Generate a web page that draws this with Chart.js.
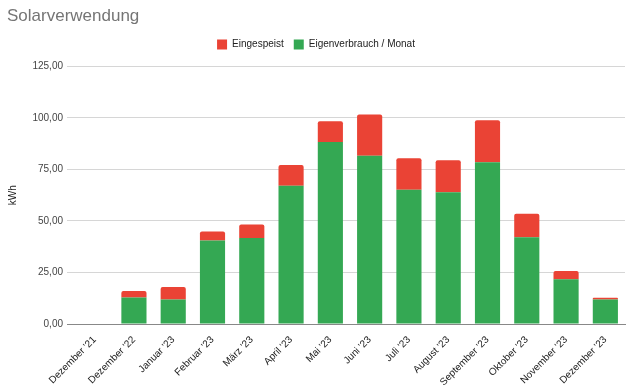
<!DOCTYPE html>
<html><head><meta charset="utf-8">
<script src="https://cdn.jsdelivr.net/npm/chart.js@4.4.0/dist/chart.umd.min.js"></script>
<style>html,body{margin:0;padding:0;background:#fff}#wrap{width:640px;height:387px}</style>
</head><body><div id="wrap"><canvas id="c" width="640" height="387"></canvas></div>
<script>
const categories = ["Dezember '21","Dezember '22","Januar '23","Februar '23","März '23","April '23","Mai '23","Juni '23","Juli '23","August '23","September '23","Oktober '23","November '23","Dezember '23"];
const eigenverbrauch = [0, 12.8, 11.9, 40.5, 41.7, 67.1, 88.3, 81.6, 65.2, 63.9, 78.5, 42.1, 21.7, 11.9];
const eingespeist = [0, 3.2, 6.1, 4.4, 6.6, 10.1, 10.1, 20.0, 15.2, 15.6, 20.4, 11.4, 4.0, 0.8];
const yTicks = [0, 25, 50, 75, 100, 125];

const legendSpacer = {
  id: 'legendSpacer',
  beforeInit(chart) {
    const orig = chart.legend.fit;
    chart.legend.fit = function () { orig.call(this); this.height += 7; };
  }
};

Chart.defaults.font.family = "'Liberation Sans', Arial, sans-serif";
new Chart(document.getElementById('c'), {
  type: 'bar',
  data: {
    labels: categories,
    datasets: [
      {label: 'Eigenverbrauch / Monat', data: eigenverbrauch, backgroundColor: '#34a853', barPercentage: 0.64, categoryPercentage: 1.0, borderRadius: 0},
      {label: 'Eingespeist', data: eingespeist, backgroundColor: '#ea4335', barPercentage: 0.64, categoryPercentage: 1.0, borderRadius: {topLeft: 2, topRight: 2}, borderSkipped: 'bottom'}
    ]
  },
  plugins: [legendSpacer],
  options: {
    responsive: false,
    animation: false,
    layout: {padding: {left: 7, right: 15, top: 2, bottom: 0}},
    plugins: {
      title: {display: true, text: 'Solarverwendung', align: 'start', color: '#757575', font: {size: 17, weight: 'normal'}, padding: {top: 4, bottom: 3}},
      legend: {
        position: 'top',
        labels: {boxWidth: 10, boxHeight: 10, color: '#222', font: {size: 10}, padding: 10,
          sort: (a, b) => b.datasetIndex - a.datasetIndex}
      },
      tooltip: {enabled: false}
    },
    scales: {
      x: {
        stacked: true,
        grid: {display: false},
        border: {display: true, color: '#888'},
        ticks: {color: '#222', font: {size: 10}, maxRotation: 45, minRotation: 45, autoSkip: false, padding: 2},
        afterFit: s => { s.height = 63; }
      },
      y: {
        stacked: true,
        min: 0, max: 125,
        afterBuildTicks: s => { s.ticks = yTicks.map(v => ({value: v})); },
        grid: {color: ctx => (ctx.tick && ctx.tick.value === 0) ? '#888' : '#d6d6d6', tickLength: 8, drawTicks: true},
        border: {display: false},
        ticks: {color: '#444', font: {size: 10}, padding: 4, callback: v => v.toFixed(2).replace('.', ',')},
        title: {display: true, text: 'kWh', color: '#222', font: {size: 10}, padding: {top: 0, bottom: 4}},
        afterFit: s => { s.width = 68; }
      }
    }
  }
});
</script></body></html>
